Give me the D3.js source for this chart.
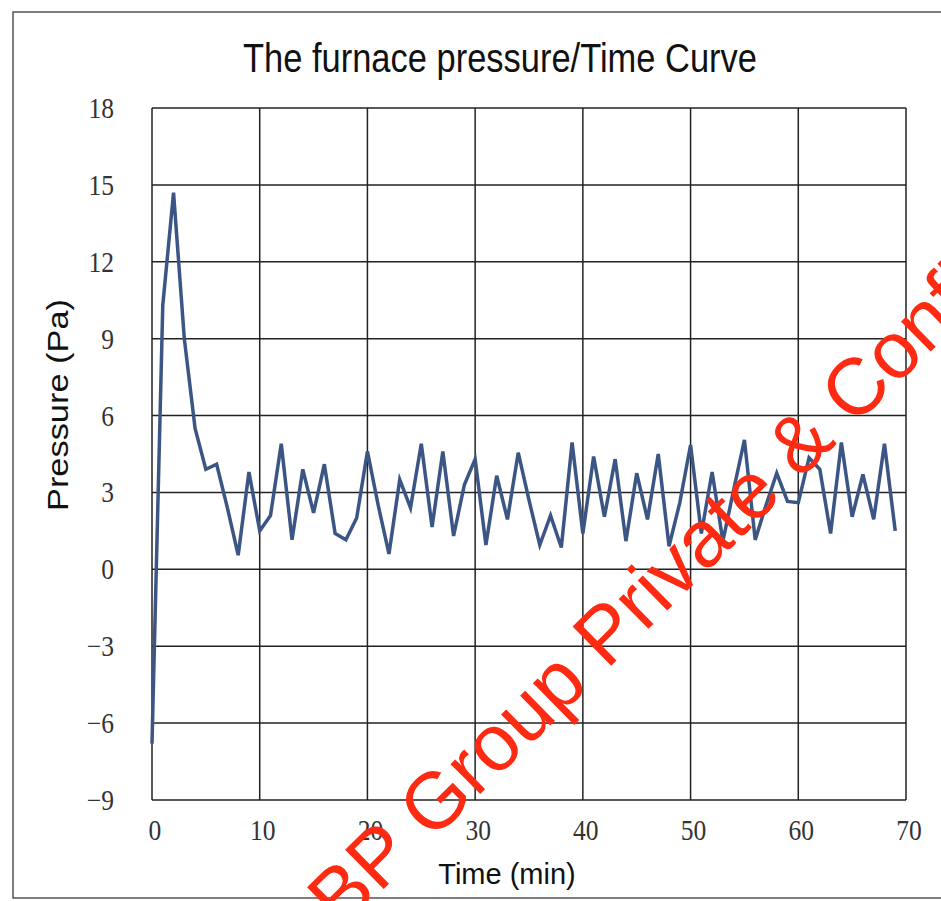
<!DOCTYPE html>
<html lang="en">
<head>
  <meta charset="UTF-8">
  <title>The furnace pressure/Time Curve</title>
  <script src="https://d3js.org/d3.v7.min.js"></script>
  <style>
    body { margin: 0; background: #fff; }
    .tick-label { font-family: "Liberation Serif", "DejaVu Serif", serif; font-size: 29px; fill: #333; }
    .axis-title { font-family: "Liberation Sans", Arial, sans-serif; font-size: 29px; fill: #111; }
  </style>
</head>
<body>
<div id="chart"></div>
<script>
  // furnace pressure (Pa), one reading per minute from t = 0
  const times = d3.range(0, 70);
  const pressure = [
    -6.8, 10.3, 14.7, 9.0, 5.5, 3.9, 4.1, 2.4, 0.55, 3.8,
    1.5, 2.1, 4.9, 1.15, 3.9, 2.2, 4.1, 1.4, 1.15, 2.0,
    4.6, 2.5, 0.6, 3.5, 2.4, 4.9, 1.65, 4.6, 1.3, 3.3,
    4.3, 0.95, 3.65, 1.95, 4.55, 2.7, 0.95, 2.1, 0.85, 4.95,
    1.4, 4.4, 2.05, 4.3, 1.1, 3.75, 1.95, 4.5, 0.9, 2.6,
    4.85, 1.4, 3.8, 1.1, 3.1, 5.05, 1.15, 2.5, 3.75, 2.65,
    2.6, 4.35, 3.9, 1.4, 4.95, 2.05, 3.7, 1.95, 4.9, 1.5
  ];
  const xTicks = [0, 10, 20, 30, 40, 50, 60, 70];
  const yTicks = [-9, -6, -3, 0, 3, 6, 9, 12, 15, 18];

  const width = 941, height = 901;
  const svg = d3.select("#chart").append("svg")
    .attr("width", width).attr("height", height);

  // scanned page frame
  svg.append("rect")
    .attr("x", 13).attr("y", 12).attr("width", 960).attr("height", 886)
    .attr("fill", "none").attr("stroke", "#555").attr("stroke-width", 1.5);

  const x = d3.scaleLinear().domain([0, 70]).range([152, 906]);
  const y = d3.scaleLinear().domain([-9, 18]).range([800, 108]);

  // grid
  svg.append("g").selectAll("line").data(yTicks).enter().append("line")
    .attr("x1", x(0)).attr("x2", x(70))
    .attr("y1", d => y(d)).attr("y2", d => y(d))
    .attr("stroke", "#222").attr("stroke-width", 1.5);
  svg.append("g").selectAll("line").data(xTicks).enter().append("line")
    .attr("x1", d => x(d)).attr("x2", d => x(d))
    .attr("y1", y(18)).attr("y2", y(-9))
    .attr("stroke", "#222").attr("stroke-width", 1.5);

  // tick labels (narrow tall serif digits)
  const sx = 0.88;
  svg.append("g").selectAll("text").data(yTicks).enter().append("text")
    .attr("class", "tick-label")
    .attr("transform", d => `translate(114,${y(d) + 10}) scale(${sx},1)`)
    .attr("text-anchor", "end")
    .text(d => d < 0 ? "\u2212" + Math.abs(d) : d);
  svg.append("g").selectAll("text").data(xTicks).enter().append("text")
    .attr("class", "tick-label")
    .attr("transform", d => `translate(${x(d) + 3},840) scale(${sx},1)`)
    .attr("text-anchor", "middle")
    .text(d => d);

  // line
  const line = d3.line()
    .x((d, i) => x(times[i]))
    .y(d => y(d));
  svg.append("path")
    .datum(pressure)
    .attr("d", line)
    .attr("fill", "none")
    .attr("stroke", "#3b5584")
    .attr("stroke-width", 3.5)
    .attr("stroke-linejoin", "miter");

  // titles
  svg.append("text")
    .attr("x", 243).attr("y", 72)
    .attr("textLength", 514).attr("lengthAdjust", "spacingAndGlyphs")
    .style("font-family", "'Liberation Sans', Arial, sans-serif")
    .style("font-size", "40px").style("fill", "#111")
    .text("The furnace pressure/Time Curve");
  svg.append("text")
    .attr("class", "axis-title")
    .attr("x", 507).attr("y", 884)
    .attr("text-anchor", "middle")
    .text("Time (min)");
  svg.append("text")
    .attr("class", "axis-title")
    .attr("transform", "translate(68,405) rotate(-90)")
    .attr("text-anchor", "middle")
    .attr("textLength", 212).attr("lengthAdjust", "spacingAndGlyphs")
    .text("Pressure (Pa)");

  // watermark
  svg.append("text")
    .attr("transform", "translate(341,931) rotate(-44.5)")
    .style("font-family", "'Liberation Sans', Arial, sans-serif")
    .style("font-size", "80px").style("fill", "#ff2a12")
    .text("BP Group Private & Confidential");
</script>
</body>
</html>
